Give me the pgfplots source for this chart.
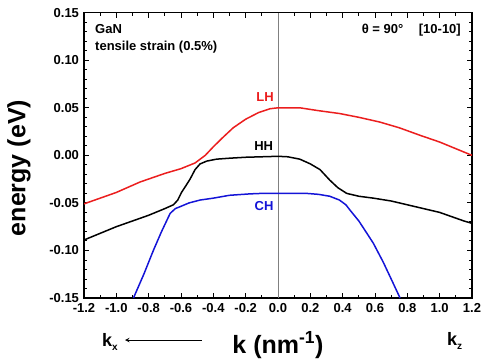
\documentclass[border=0pt]{standalone}
\usepackage{fontspec}
\setmainfont{Liberation Sans}
\usepackage{pgfplots}
\pgfplotsset{compat=1.18}
\definecolor{lhred}{RGB}{235,30,30}
\definecolor{chblue}{RGB}{20,20,215}
\begin{document}
\begin{tikzpicture}[x=1pt,y=1pt]
\useasboundingbox (-84,-64) rectangle (405,298);
\begin{axis}[at={(0,0)}, anchor=south west, scale only axis,
  width=388pt, height=285.3pt,
  xmin=-1.2, xmax=1.2, ymin=-0.15, ymax=0.15,
  xtick={-1.2,-1.0,-0.8,-0.6,-0.4,-0.2,0,0.2,0.4,0.6,0.8,1.0,1.2},
  ytick={-0.15,-0.10,-0.05,0,0.05,0.10,0.15},
  minor x tick num=1, minor y tick num=4,
  tick align=inside, major tick length=5pt, minor tick length=3pt,
  axis line style={line width=1.3pt},
  every tick/.style={black, line width=0.9pt},
  scaled y ticks=false, scaled x ticks=false,
  /pgf/number format/assume math mode=true,
  ticklabel style={font=\bfseries\fontsize{13}{15}\selectfont},
  xticklabel style={yshift=-2pt,/pgf/number format/fixed,/pgf/number format/fixed zerofill,/pgf/number format/precision=1},
  yticklabel style={xshift=-1.5pt,/pgf/number format/fixed,/pgf/number format/fixed zerofill,/pgf/number format/precision=2},
  clip=true]
\addplot[gray, line width=0.8pt] coordinates {(0,-0.15) (0,0.15)};
\addplot[lhred, line width=1.5pt] coordinates {
(-1.2,-0.051) (-1.0,-0.039) (-0.853,-0.028) (-0.7,-0.019) (-0.6,-0.014) (-0.513,-0.008)
(-0.45,0.000) (-0.40,0.009) (-0.34,0.019) (-0.277,0.029) (-0.2,0.038) (-0.12,0.045)
(-0.05,0.049) (0,0.050) (0.135,0.050) (0.25,0.047) (0.38,0.044) (0.5,0.040) (0.63,0.035)
(0.75,0.029) (0.88,0.021) (1.0,0.014) (1.1,0.007) (1.2,0.000)};
\addplot[black, line width=1.5pt] coordinates {
(-1.2,-0.089) (-1.1,-0.082) (-1.0,-0.075) (-0.9,-0.069) (-0.8,-0.063) (-0.7,-0.056)
(-0.647,-0.052) (-0.62,-0.047) (-0.597,-0.039) (-0.57,-0.032) (-0.544,-0.025) (-0.513,-0.015)
(-0.482,-0.009) (-0.44,-0.006) (-0.38,-0.004) (-0.3,-0.003) (-0.2,-0.002) (-0.1,-0.0015)
(0,-0.001) (0.06,-0.0015) (0.135,-0.004) (0.2,-0.009) (0.26,-0.015) (0.32,-0.026)
(0.37,-0.034) (0.425,-0.040) (0.5,-0.043) (0.59,-0.045) (0.7,-0.048) (0.8,-0.052)
(0.9,-0.056) (1.0,-0.060) (1.1,-0.066) (1.15,-0.069) (1.2,-0.0715)};
\addplot[chblue, line width=1.5pt] coordinates {
(-0.894,-0.150) (-0.83,-0.125) (-0.77,-0.0996) (-0.72,-0.080) (-0.667,-0.061) (-0.635,-0.056)
(-0.606,-0.054) (-0.55,-0.050) (-0.482,-0.047) (-0.4,-0.045) (-0.3,-0.042) (-0.173,-0.0405)
(-0.1,-0.040) (0,-0.040) (0.177,-0.040) (0.25,-0.041) (0.32,-0.043) (0.38,-0.047)
(0.42,-0.052) (0.445,-0.0575) (0.5,-0.069) (0.55,-0.082) (0.59,-0.0925) (0.65,-0.112)
(0.7,-0.130) (0.755,-0.150)};
\end{axis}
\begin{scope}[every node/.style={inner sep=0pt, font=\bfseries\fontsize{13}{15}\selectfont}]
\node[anchor=base west] at (11,264.7) {GaN};
\node[anchor=base west] at (11,247.3) {tensile strain (0.5\%)};
\node[anchor=base east] at (377,264.7) {θ = 90°\hspace{1.2em}[10-10]};
\node[anchor=base, text=lhred] at (181,196.3) {LH};
\node[anchor=base] at (179.7,147.3) {HH};
\node[anchor=base, text=chblue] at (180,88) {CH};
\end{scope}
\node[anchor=base west, inner sep=0pt, font=\bfseries\fontsize{18}{20}\selectfont] at (18,-48.7) {k\raisebox{-4pt}{\fontsize{10}{10}\selectfont x}};
\node[anchor=base west, inner sep=0pt, font=\bfseries\fontsize{18}{20}\selectfont] at (363,-47) {k\raisebox{-4pt}{\fontsize{10}{10}\selectfont z}};
\draw[-stealth, line width=1pt] (117.7,-42) -- (41,-42);
\node[anchor=base, inner sep=0pt, font=\bfseries\fontsize{25}{28}\selectfont] at (194,-55) {k (nm\textsuperscript{-1})};
\node[rotate=90, inner sep=0pt, font=\bfseries\fontsize{25}{28}\selectfont] at (-65,130) {energy (eV)};
\end{tikzpicture}
\end{document}
